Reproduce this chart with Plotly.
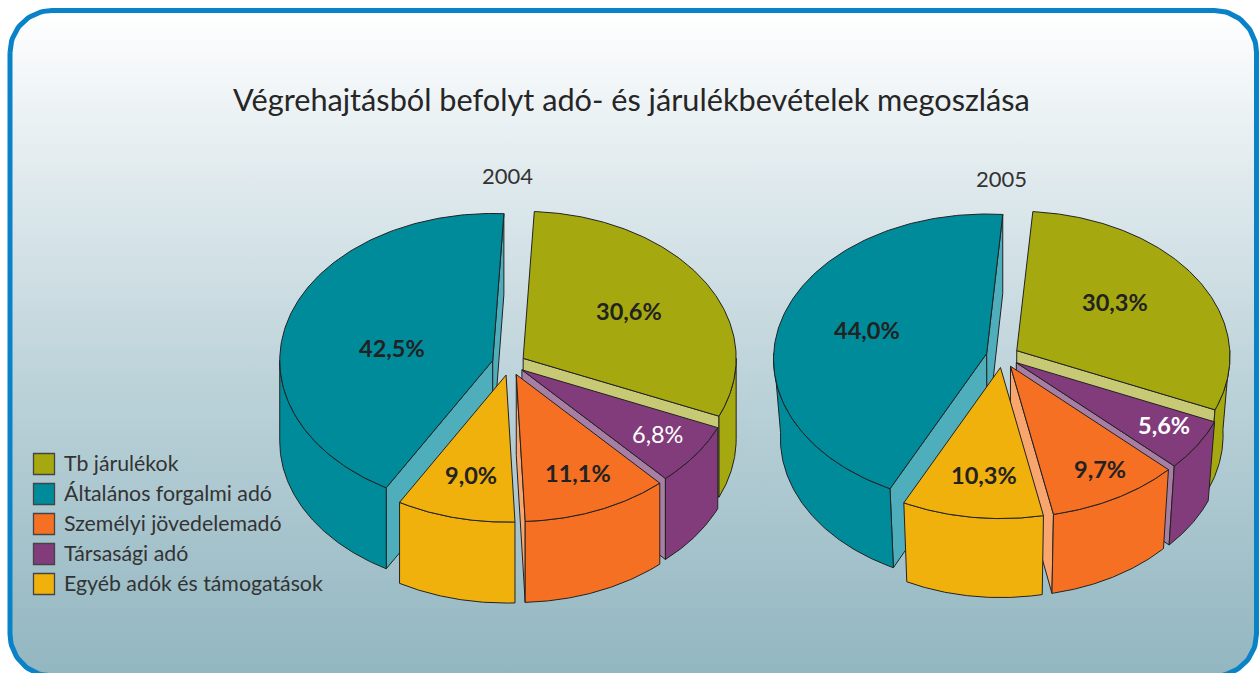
import numpy as np
import plotly.graph_objects as go

# ---------- data ----------
TITLE = "Végrehajtásból befolyt adó- és járulékbevételek megoszlása"
CATEGORIES = ["Tb járulékok", "Általános forgalmi adó", "Személyi jövedelemadó",
              "Társasági adó", "Egyéb adók és támogatások"]
YEARS = ["2004", "2005"]
VALUES_2004 = [30.6, 42.5, 11.1, 6.8, 9.0]
VALUES_2005 = [30.3, 44.0, 9.7, 5.6, 10.3]

# ---------- style ----------
TOP = ["#a5a90f", "#008b9b", "#f57022", "#823c7c", "#f0b10d"]
WALL = ["#c8c974", "#4faebc", "#f9a56e", "#a87fa4", "#f5c95f"]
EDGE = "#222222"
TXT = "#333333"
FONT = "Lato"
W, H = 1259, 673
# clockwise slice order on the pie, and back-to-front paint order
PIE_ORDER = [0, 3, 2, 4, 1]
PAINT_ORDER = [1, 0, 3, 2, 4]
PIES = [
    dict(values=VALUES_2004, cx=510.0, cy=364.0, a=213, b=147, persp=0.0, depth=81,
         start=3.0, explode=[15.5, 18.0, 16.5, 14.6, 16.5], squeeze=1.0,
         year=(507, 175),
         labels=[(629, 311), (392, 348), (578, 473), (657, 434), (471, 475)],
         white_bold=False),
    dict(values=VALUES_2005, cx=1002.6, cy=356.4, a=213, b=145, persp=0.04, depth=79,
         start=4.5, explode=[16.5] * 5, squeeze=0.97,
         year=(1001, 178),
         labels=[(1115, 302), (867, 330), (1100, 469), (1164, 425), (984, 475)],
         white_bold=True),
]
LEGEND_X, LEGEND_TXT_X, LEGEND_Y0, LEGEND_STEP = 44, 62, 463, 30

fig = go.Figure()

def poly(xs, ys, fill, line=EDGE):
    fig.add_trace(go.Scatter(x=xs, y=ys, mode="lines", fill="toself", fillcolor=fill,
                             line=dict(color=line, width=1), hoverinfo="skip", showlegend=False))

# ---------- panel ----------
def rounded(x0, y0, x1, y1, r):
    xs, ys = [], []
    for cx_, cy_, a0 in [(x0 + r, y0 + r, 180), (x1 - r, y0 + r, 270), (x1 - r, y1 - r, 0), (x0 + r, y1 - r, 90)]:
        t = np.radians(np.linspace(a0, a0 + 90, 24))
        xs += list(cx_ + r * np.cos(t))
        ys += list(cy_ + r * np.sin(t))
    return xs + xs[:1], ys + ys[:1]

fx, fy = rounded(10, 10.5, 1256.5, 676, 42)
fig.add_trace(go.Scatter(
    x=fx, y=fy, mode="lines", fill="toself",
    fillgradient=dict(type="vertical",
                      colorscale=[[0, "#92b6c0"], [0.45, "#bdd3da"], [0.8, "#e6eef1"], [1, "#ffffff"]]),
    line=dict(color="#0a82c8", width=5), hoverinfo="skip", showlegend=False))

# ---------- pies ----------
def project(p, apex, t):
    """top-face rim point at clockwise angle t (deg), with a projective tilt"""
    r = np.radians(t)
    w = 1 + p["persp"] * np.cos(r)
    return apex[0] + p["a"] * np.sin(r) / w, apex[1] - p["b"] * np.cos(r) / w

def drop(p, x, y):
    """same point on the bottom face"""
    return p["cx"] + (np.asarray(x) - p["cx"]) * p["squeeze"], np.asarray(y) + p["depth"]

annotations = []
for p in PIES:
    total = sum(p["values"])
    spans, t = {}, p["start"]
    for i in PIE_ORDER:
        sweep = p["values"][i] / total * 360
        spans[i] = (t, t + sweep)
        t += sweep
    for i in PAINT_ORDER:
        ts, te = spans[i]
        mid = np.radians((ts + te) / 2)
        apex = (p["cx"] + p["explode"][i] * np.sin(mid),
                p["cy"] - p["explode"][i] * np.cos(mid) * p["b"] / p["a"])
        # radial end walls, where they face the viewer
        for ang, visible in ((ts, np.sin(np.radians(ts)) < 0), (te, np.sin(np.radians(te)) > 0)):
            if visible:
                ox, oy = project(p, apex, ang)
                bx, by = drop(p, [apex[0], ox], [apex[1], oy])
                poly([apex[0], ox, bx[1], bx[0], apex[0]], [apex[1], oy, by[1], by[0], apex[1]], WALL[i])
        # outer rim wall
        lo, hi = max(ts, 90), min(te, 270)
        if hi > lo:
            tt = np.linspace(lo, hi, 90)
            rx, ry = project(p, apex, tt)
            bx, by = drop(p, rx, ry)
            poly(list(rx) + list(bx[::-1]) + [rx[0]], list(ry) + list(by[::-1]) + [ry[0]], TOP[i])
        # top face
        tt = np.linspace(ts, te, 160)
        rx, ry = project(p, apex, tt)
        poly([apex[0]] + list(rx) + [apex[0]], [apex[1]] + list(ry) + [apex[1]], TOP[i])
    # value labels
    for i, (lx, ly) in enumerate(p["labels"]):
        is_purple = i == 3
        bold = not is_purple or p["white_bold"]
        txt = f"{p['values'][i]:.1f}%".replace(".", ",")
        annotations.append(dict(
            x=lx, y=ly, xref="x", yref="y", showarrow=False, text=f"<b>{txt}</b>" if bold else txt,
            font=dict(family=FONT, size=23.5, color="#ffffff" if is_purple else "#222222")))

for yr, p in zip(YEARS, PIES):
    annotations.append(dict(x=p["year"][0], y=p["year"][1], xref="x", yref="y", showarrow=False, text=yr,
                            font=dict(family=FONT, size=22, color=TXT)))

# ---------- legend ----------
for k, name in enumerate(CATEGORIES):
    yy = LEGEND_Y0 + k * LEGEND_STEP
    fig.add_trace(go.Scatter(x=[LEGEND_X], y=[yy + 1], mode="markers",
                             marker=dict(symbol="square", size=21, color=TOP[k], line=dict(color="#444444", width=1.3)),
                             hoverinfo="skip", showlegend=False))
    annotations.append(dict(x=LEGEND_TXT_X, y=yy, xref="x", yref="y", xanchor="left", showarrow=False, text=name,
                            font=dict(family=FONT, size=21.3, color=TXT)))

annotations.append(dict(x=631, y=99, xref="x", yref="y", showarrow=False, text=TITLE,
                        font=dict(family=FONT, size=30.7, color="#262626")))

fig.update_layout(
    width=W, height=H, margin=dict(l=0, r=0, t=0, b=0),
    paper_bgcolor="#ffffff", plot_bgcolor="#ffffff", showlegend=False, annotations=annotations,
    xaxis=dict(range=[0, W], visible=False, fixedrange=True),
    yaxis=dict(range=[H, 0], visible=False, fixedrange=True),
)
fig.write_html("out.html", config=dict(displayModeBar=False),
               post_script="document.body.style.margin='0';document.documentElement.style.overflow='hidden';")
